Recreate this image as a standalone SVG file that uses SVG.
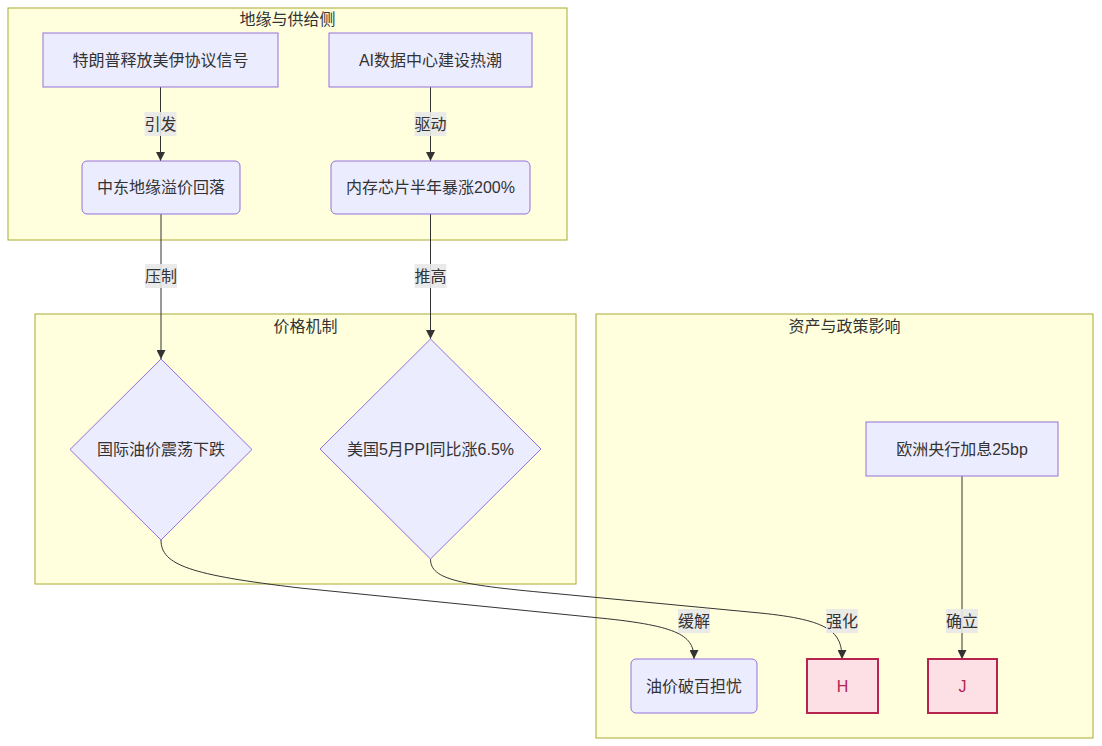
<svg xmlns="http://www.w3.org/2000/svg" width="1102" height="746" viewBox="0 0 1102 746">
<defs>
<marker id="arrow" viewBox="0 0 10 10" refX="10" refY="5" markerUnits="userSpaceOnUse" markerWidth="9" markerHeight="9" orient="auto">
<path d="M0,0 L10,5 L0,10 z" fill="#333333"/>
</marker>
</defs>
<style>
text{font-family:"Liberation Sans","Noto Sans CJK SC",sans-serif;font-size:16px;fill:#333333;text-anchor:middle;dominant-baseline:central}
.cluster{fill:#ffffde;stroke:#aaaa33;stroke-width:1}
.node{fill:#ececff;stroke:#9370db;stroke-width:1}
.hot{fill:#fde0e6;stroke:#b5234f;stroke-width:2}
.hot-t{fill:#b5234f}
.edge{fill:none;stroke:#333333;stroke-width:1;marker-end:url(#arrow)}
.lbl{fill:#e8e8e8;opacity:0.9}
</style>
<rect width="1102" height="746" fill="#ffffff"/>
<g id="clusters">
<g id="cluster-geo"><rect class="cluster" x="8" y="8" width="559" height="232"/><text x="287.5" y="19">地缘与供给侧</text></g>
<g id="cluster-price"><rect class="cluster" x="35" y="314" width="541" height="270"/><text x="305.5" y="326">价格机制</text></g>
<g id="cluster-asset"><rect class="cluster" x="596" y="314" width="497" height="424"/><text x="844.5" y="326">资产与政策影响</text></g>
</g>
<g id="connectors">
<path class="edge" d="M160.5,87 L160.5,161"/>
<path class="edge" d="M430.5,87 L430.5,161"/>
<path class="edge" d="M161,214 L161,359"/>
<path class="edge" d="M430.5,214 L430.5,339"/>
<path class="edge" d="M161,540 C161,565 190,575 300,588 L600,618 C680,626 694,636 694,659"/>
<path class="edge" d="M430.5,559 C430.5,580 460,585 560,594 L760,613 C830,620 842,632 842,659"/>
<path class="edge" d="M962,476 L962,659"/>
<g id="edge-labels">
<rect class="lbl" x="144.5" y="112" width="32" height="24"/><text x="160.5" y="124">引发</text>
<rect class="lbl" x="414.5" y="112" width="32" height="24"/><text x="430.5" y="124">驱动</text>
<rect class="lbl" x="145" y="264" width="32" height="24"/><text x="161" y="276">压制</text>
<rect class="lbl" x="414.5" y="264" width="32" height="24"/><text x="430.5" y="276">推高</text>
<rect class="lbl" x="678" y="609" width="32" height="24"/><text x="694" y="621">缓解</text>
<rect class="lbl" x="826" y="609" width="32" height="24"/><text x="842" y="621">强化</text>
<rect class="lbl" x="946" y="609" width="32" height="24"/><text x="962" y="621">确立</text>
</g>
</g>
<g id="node-A"><rect class="node" x="43" y="33" width="235" height="54"/><text x="160.5" y="60">特朗普释放美伊协议信号</text></g>
<g id="node-B"><rect class="node" x="329" y="33" width="203" height="54"/><text x="430.5" y="60">AI数据中心建设热潮</text></g>
<g id="node-C"><rect class="node" x="82" y="161" width="158" height="53" rx="5"/><text x="161" y="187.5">中东地缘溢价回落</text></g>
<g id="node-D"><rect class="node" x="331" y="161" width="199" height="53" rx="5"/><text x="430.5" y="187.5">内存芯片半年暴涨200%</text></g>
<g id="node-E"><polygon class="node" points="161,359 252,449.5 161,540 70,449.5"/><text x="161" y="449.5">国际油价震荡下跌</text></g>
<g id="node-F"><polygon class="node" points="430.5,339 541,449 430.5,559 320,449"/><text x="430.5" y="449">美国5月PPI同比涨6.5%</text></g>
<g id="node-K"><rect class="node" x="866" y="422" width="192" height="54"/><text x="962" y="449">欧洲央行加息25bp</text></g>
<g id="node-G"><rect class="node" x="631" y="659" width="126" height="54" rx="5"/><text x="694" y="686">油价破百担忧</text></g>
<g id="node-H"><rect class="hot" x="807" y="659" width="71" height="54"/><text class="hot-t" x="842.5" y="686">H</text></g>
<g id="node-J"><rect class="hot" x="928" y="659" width="69" height="54"/><text class="hot-t" x="962.5" y="686">J</text></g>
</svg>
